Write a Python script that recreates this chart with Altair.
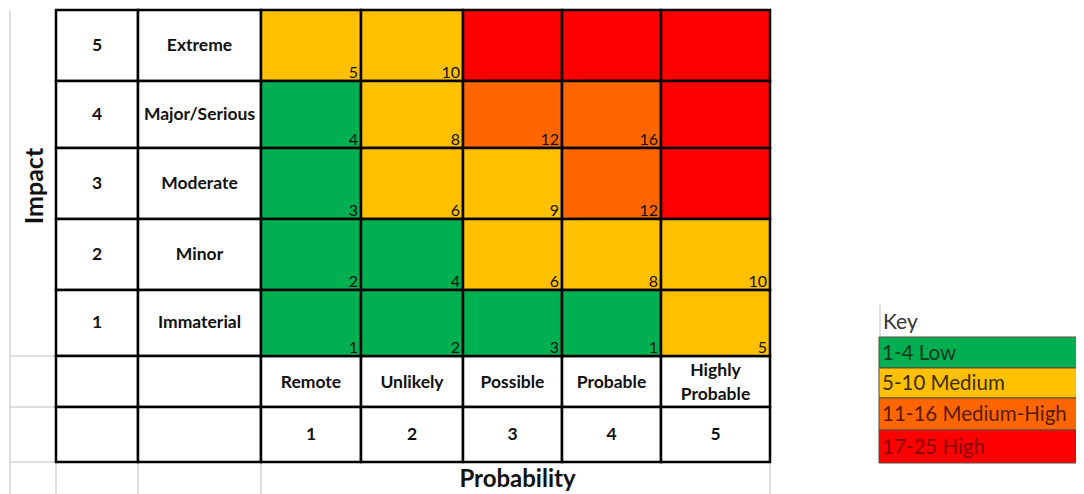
import altair as alt
import pandas as pd

# ---------------- data ----------------
impact_levels = [5, 4, 3, 2, 1]
impact_names = ["Extreme", "Major/Serious", "Moderate", "Minor", "Immaterial"]
prob_levels = [1, 2, 3, 4, 5]
prob_names = ["Remote", "Unlikely", "Possible", "Probable", "Highly\nProbable"]
# shown score in each cell (rows = impact 5..1, cols = probability 1..5)
scores = [
    [5, 10, None, None, None],
    [4, 8, 12, 16, None],
    [3, 6, 9, 12, None],
    [2, 4, 6, 8, 10],
    [1, 2, 3, 1, 5],
]
bands = [
    ["Medium", "Medium", "High", "High", "High"],
    ["Low", "Medium", "Medium-High", "Medium-High", "High"],
    ["Low", "Medium", "Medium", "Medium-High", "High"],
    ["Low", "Low", "Medium", "Medium", "Medium"],
    ["Low", "Low", "Low", "Low", "Medium"],
]
band_names = ["Low", "Medium", "Medium-High", "High"]
band_colors = ["#00B050", "#FFC000", "#FF6600", "#FF0000"]
key_labels = ["1-4 Low", "5-10 Medium", "11-16 Medium-High", "17-25 High"]
key_text_colors = ["#12381f", "#3d2c00", "#5a1a00", "#8a0000"]
x_title = "Probability"
y_title = "Impact"

# ---------------- layout (pixel units of the page) ----------------
GRAY_X = 10
NUM_COL = (56, 138)
NAME_COL = (138, 261)
P_EDGES = [261, 361, 463, 562, 661, 770]
R_EDGES = [10, 81, 148, 219, 290, 356]
HEAD1 = (356, 407)
HEAD2 = (407, 462)
BOTTOM = 494
KEY_X = (879, 1090)
KEY_TOP = 337
KEY_EDGES = [337, 368, 398, 430, 463]
LINE_H = 24

FONT = "Lato"

# matrix cells
cells = []
for i, imp in enumerate(impact_levels):
    for j, pr in enumerate(prob_levels):
        cells.append(dict(x=P_EDGES[j], x2=P_EDGES[j + 1], y=R_EDGES[i], y2=R_EDGES[i + 1],
                          band=bands[i][j],
                          label="" if scores[i][j] is None else str(scores[i][j])))
cells = pd.DataFrame(cells)

# white header cells
heads = []
for i in range(5):
    heads.append(dict(x=NUM_COL[0], x2=NUM_COL[1], y=R_EDGES[i], y2=R_EDGES[i + 1]))
    heads.append(dict(x=NAME_COL[0], x2=NAME_COL[1], y=R_EDGES[i], y2=R_EDGES[i + 1]))
for (a, b) in [HEAD1, HEAD2]:
    heads.append(dict(x=NUM_COL[0], x2=NUM_COL[1], y=a, y2=b))
    heads.append(dict(x=NAME_COL[0], x2=NAME_COL[1], y=a, y2=b))
    for j in range(5):
        heads.append(dict(x=P_EDGES[j], x2=P_EDGES[j + 1], y=a, y2=b))
heads = pd.DataFrame(heads)

# gray gridlines
gray = [dict(x=GRAY_X, x2=GRAY_X, y=R_EDGES[0], y2=BOTTOM)]
for yy in [HEAD1[0], HEAD1[1], HEAD2[1]]:
    gray.append(dict(x=GRAY_X, x2=NUM_COL[0], y=yy, y2=yy))
for xx in [NUM_COL[0], NAME_COL[0], NAME_COL[1], P_EDGES[-1]]:
    gray.append(dict(x=xx, x2=xx, y=HEAD2[1], y2=BOTTOM))
gray.append(dict(x=880, x2=880, y=305, y2=KEY_TOP))
gray = pd.DataFrame(gray)

# header texts
row_txt = []
for i in range(5):
    cy = (R_EDGES[i] + R_EDGES[i + 1]) / 2
    row_txt.append(dict(x=sum(NUM_COL) / 2, y=cy, t=str(impact_levels[i])))
    row_txt.append(dict(x=sum(NAME_COL) / 2, y=cy, t=impact_names[i]))
for j in range(5):
    cx = (P_EDGES[j] + P_EDGES[j + 1]) / 2
    n_lines = prob_names[j].count("\n") + 1
    row_txt.append(dict(x=cx, y=sum(HEAD1) / 2 + 1 - (n_lines - 1) * LINE_H / 2, t=prob_names[j]))
    row_txt.append(dict(x=cx, y=sum(HEAD2) / 2, t=str(prob_levels[j])))
row_txt = pd.DataFrame(row_txt)

key_df = pd.DataFrame(dict(
    x=[KEY_X[0]] * 4, x2=[KEY_X[1]] * 4,
    y=KEY_EDGES[:-1], y2=KEY_EDGES[1:],
    band=band_names, label=key_labels, tc=key_text_colors,
))
key_df["ty"] = (key_df["y"] + key_df["y2"]) / 2 + 1

xs = alt.Scale(domain=[8, 1076], nice=False, zero=False)
ys = alt.Scale(domain=[8, 494], nice=False, zero=False, reverse=True)
X = lambda f="x": alt.X(f"{f}:Q", scale=xs, axis=None)
Y = lambda f="y": alt.Y(f"{f}:Q", scale=ys, axis=None)
fill = alt.Fill("band:N", scale=alt.Scale(domain=band_names, range=band_colors), legend=None)

gray_layer = alt.Chart(gray).mark_rule(color="#d4d4d4", strokeWidth=1.5).encode(
    x=X(), x2="x2:Q", y=Y(), y2="y2:Q")

head_layer = alt.Chart(heads).mark_rect(fill="white", stroke="black", strokeWidth=2.5).encode(
    x=X(), x2="x2:Q", y=Y(), y2="y2:Q")

cell_layer = alt.Chart(cells).mark_rect(stroke="black", strokeWidth=2.5).encode(
    x=X(), x2="x2:Q", y=Y(), y2="y2:Q", fill=fill)

cell_text = alt.Chart(cells).transform_calculate(
    tx="datum.x2 - 3", ty="datum.y2 - 3"
).mark_text(align="right", baseline="alphabetic", font=FONT, fontSize=16, color="#111").encode(
    x=X("tx"), y=Y("ty"), text="label:N")

head_text = alt.Chart(row_txt).mark_text(
    align="center", baseline="middle", font=FONT, fontSize=17.5, fontWeight="bold",
    color="#111", lineBreak="\n", lineHeight=LINE_H
).encode(x=X(), y=Y(), text="t:N")

titles = pd.DataFrame(dict(x=[(P_EDGES[0] + P_EDGES[-1]) / 2 + 2], y=[480], t=[x_title]))
xt_layer = alt.Chart(titles).mark_text(
    align="center", baseline="middle", font=FONT, fontSize=24, fontWeight="bold", color="#111"
).encode(x=X(), y=Y(), text="t:N")

ytitle = pd.DataFrame(dict(x=[35], y=[186], t=[y_title]))
yt_layer = alt.Chart(ytitle).mark_text(
    align="center", baseline="middle", angle=270, font=FONT, fontSize=25, fontWeight="bold",
    color="#111"
).encode(x=X(), y=Y(), text="t:N")

key_rect = alt.Chart(key_df).mark_rect(stroke="#5a4a3a", strokeWidth=1).encode(
    x=X(), x2="x2:Q", y=Y(), y2="y2:Q", fill=fill)
key_text = alt.Chart(key_df).transform_calculate(tx="datum.x + 3").mark_text(
    align="left", baseline="middle", font=FONT, fontSize=20.5
).encode(x=X("tx"), y=Y("ty"), text="label:N", color=alt.Color("tc:N", scale=None))

key_head = pd.DataFrame(dict(x=[883], y=[323], t=["Key"]))
key_head_layer = alt.Chart(key_head).mark_text(
    align="left", baseline="middle", font=FONT, fontSize=21, color="#333"
).encode(x=X(), y=Y(), text="t:N")

chart = alt.layer(
    gray_layer, head_layer, cell_layer, cell_text, head_text, xt_layer, yt_layer,
    key_rect, key_text, key_head_layer
).properties(
    width=1068, height=486, padding=0, autosize=alt.AutoSizeParams(type="none")
).configure_view(stroke=None)

chart.save("out.html", embed_options={"renderer": "svg", "actions": False})
